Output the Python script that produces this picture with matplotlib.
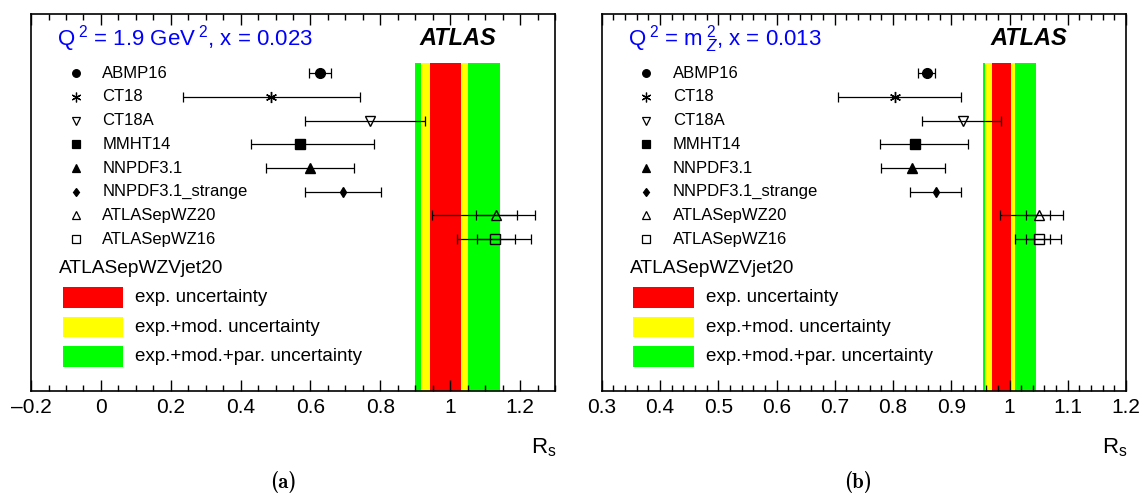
import numpy as np
import matplotlib
matplotlib.use("Agg")
import matplotlib.pyplot as plt
from matplotlib.ticker import MultipleLocator

plt.rcParams['font.family'] = ['Liberation Sans', 'DejaVu Sans']
plt.rcParams['mathtext.fontset'] = 'custom'
plt.rcParams['mathtext.rm'] = 'Liberation Sans'
plt.rcParams['mathtext.it'] = 'Liberation Sans:italic'

# PDF sets
nomes = ["ABMP16", "CT18", "CT18A", "MMHT14", "NNPDF3.1",
         "NNPDF3.1_strange", "ATLASepWZ20", "ATLASepWZ16"]
marcadores = ['o', (6, 2, 0), 'v', 's', '^', 'd', '^', 's']
cheios = [True, True, False, True, True, True, False, False]

# painel (a): Q2 = 1.9 GeV2, x = 0.023
rs_a = [0.628, 0.487, 0.769, 0.571, 0.599, 0.692, 1.132, 1.128]
lo_a = [0.597, 0.235, 0.585, 0.429, 0.474, 0.583, 0.947, 1.020]
hi_a = [0.660, 0.743, 0.927, 0.782, 0.726, 0.802, 1.243, 1.232]
lo_int_a = [1.075, 1.076]   # erro interno ATLASepWZ20/16
hi_int_a = [1.191, 1.185]
bandas_a = {"red": (0.943, 1.031), "yellow": (0.915, 1.052), "lime": (0.900, 1.142)}

# painel (b): Q2 = mZ2, x = 0.013
rs_b = [0.858, 0.804, 0.920, 0.838, 0.833, 0.874, 1.050, 1.050]
lo_b = [0.843, 0.706, 0.849, 0.778, 0.779, 0.829, 0.983, 1.010]
hi_b = [0.872, 0.917, 0.985, 0.928, 0.889, 0.917, 1.092, 1.088]
lo_int_b = [1.028, 1.029]
hi_int_b = [1.070, 1.070]
bandas_b = {"red": (0.970, 1.002), "yellow": (0.958, 1.009), "lime": (0.955, 1.045)}

legenda_bandas = [("red", "exp. uncertainty"),
                  ("yellow", "exp.+mod. uncertainty"),
                  ("lime", "exp.+mod.+par. uncertainty")]

fig = plt.figure(figsize=(11.41, 4.93), dpi=100)

y0 = 0.8426
dy = 0.0629
y_linhas = y0 - dy * np.arange(len(nomes))


def painel(ax, rs, lo, hi, lo_int, hi_int, bandas, xlim, maior, menor, titulo):
    ax.set_xlim(*xlim)
    ax.set_ylim(0, 1)
    for cor in ["lime", "yellow", "red"]:
        a, b = bandas[cor]
        ax.axvspan(a, b, ymin=0, ymax=0.871, color=cor, lw=0, zorder=1)

    rs = np.array(rs)
    err = [rs - np.array(lo), np.array(hi) - rs]
    ax.errorbar(rs, y_linhas, xerr=err, fmt='none', ecolor='black',
                elinewidth=0.9, capsize=3.5, capthick=0.9, zorder=3)
    # erros internos (ticks) dos ajustes ATLAS
    rs_w = rs[-2:]
    err_int = [rs_w - np.array(lo_int), np.array(hi_int) - rs_w]
    ax.errorbar(rs_w, y_linhas[-2:], xerr=err_int, fmt='none', ecolor='black',
                elinewidth=0.9, capsize=3.5, capthick=0.9, zorder=3)

    for i, nome in enumerate(nomes):
        mfc = 'black' if cheios[i] else 'none'
        ms, ms_leg = 7, 5.5
        if marcadores[i] == 'd':
            ms, ms_leg = 5, 4.5
        elif marcadores[i] == (6, 2, 0):
            ms, ms_leg = 8, 7
        ax.plot(rs[i], y_linhas[i], marker=marcadores[i], ms=ms, mfc=mfc,
                mec='black', mew=1.0, ls='none', zorder=4)
        # coluna da legenda
        ax.plot(0.085, y_linhas[i], marker=marcadores[i], ms=ms_leg, mfc=mfc,
                mec='black', mew=0.9, ls='none', transform=ax.transAxes,
                clip_on=False, zorder=4)
        ax.text(0.136, y_linhas[i], nome, transform=ax.transAxes,
                fontsize=12, va='center', ha='left')

    ax.text(0.053, 0.325, "ATLASepWZVjet20", transform=ax.transAxes,
            fontsize=13.8, va='center', ha='left')
    for j, (cor, rotulo) in enumerate(legenda_bandas):
        yc = 0.2474 - 0.0783 * j
        ax.add_patch(plt.Rectangle((0.0605, yc - 0.0272), 0.1145, 0.0544,
                                   transform=ax.transAxes, color=cor, lw=0))
        ax.text(0.1985, yc, rotulo, transform=ax.transAxes,
                fontsize=13.5, va='center', ha='left')

    ax.text(0.05, 0.934, titulo, transform=ax.transAxes, color='blue',
            fontsize=16, va='center', ha='left')
    ax.text(0.888, 0.934, "ATLAS", transform=ax.transAxes, fontsize=17,
            fontweight='bold', fontstyle='italic', va='center', ha='right')

    ax.xaxis.set_major_locator(MultipleLocator(maior))
    ax.xaxis.set_minor_locator(MultipleLocator(menor))
    ax.tick_params(axis='x', which='both', direction='in', top=True,
                   labelsize=15, pad=5)
    ax.tick_params(axis='x', which='major', length=8, width=1)
    ax.tick_params(axis='x', which='minor', length=4, width=1)
    ax.set_yticks([])
    for s in ax.spines.values():
        s.set_linewidth(1.2)
    ax.xaxis.set_major_formatter(plt.FuncFormatter(
        lambda v, p: ("\u2013" if v < -1e-9 else "") + f"{abs(v):g}"))


ax1 = fig.add_axes([0.0272, 0.2075, 0.4592, 0.7641])
painel(ax1, rs_a, lo_a, hi_a, lo_int_a, hi_int_a, bandas_a,
       (-0.2, 1.3), 0.2, 0.05,
       r"Q$^{\;2}$ = 1.9 GeV$^{\;2}$, x = 0.023")

ax2 = fig.add_axes([0.5274, 0.2075, 0.4595, 0.7641])
painel(ax2, rs_b, lo_b, hi_b, lo_int_b, hi_int_b, bandas_b,
       (0.3, 1.2), 0.1, 0.02,
       r"Q$^{\;2}$ = m$^{\;2}_{\;Z}$, x = 0.013")

for ax in (ax1, ax2):
    ax.text(1.003, -0.15, r"R$_{\rm s}$", transform=ax.transAxes,
            fontsize=16, ha='right', va='center')

fig.text(283 / 1141, 1 - 482 / 493, "(a)", family=['cmb10', 'DejaVu Serif'],
         fontsize=15, ha='center', va='center')
fig.text(858 / 1141, 1 - 482 / 493, "(b)", family=['cmb10', 'DejaVu Serif'],
         fontsize=15, ha='center', va='center')

fig.savefig("out.png", dpi=100)
